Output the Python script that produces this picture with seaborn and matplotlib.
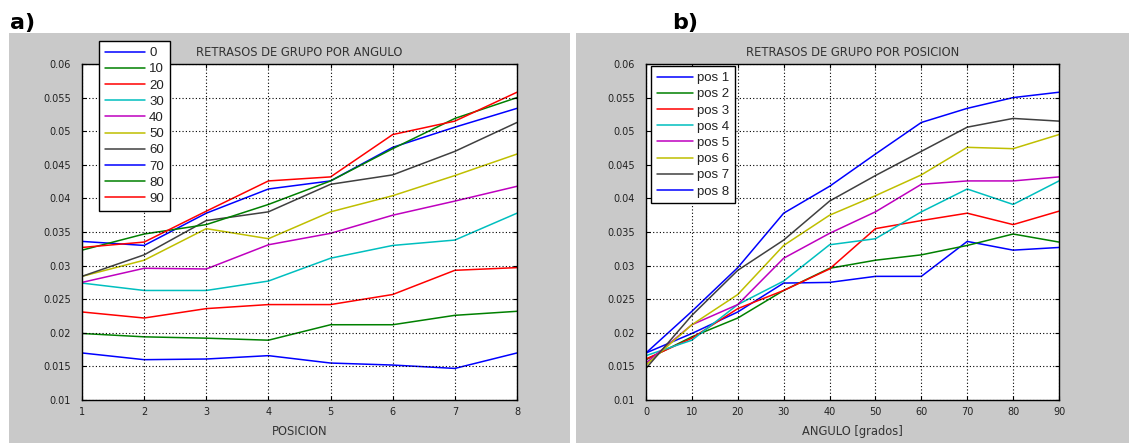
import numpy as np
import pandas as pd
import matplotlib
matplotlib.use("Agg")
import matplotlib.pyplot as plt
from matplotlib.lines import Line2D
from matplotlib.patches import Rectangle
import seaborn as sns

# ---- data: group delay for each angle (rows) at each position 1..8 ----
posiciones = [1, 2, 3, 4, 5, 6, 7, 8]
angulos = [0, 10, 20, 30, 40, 50, 60, 70, 80, 90]
ang0 = [0.0170, 0.0160, 0.0161, 0.0166, 0.0155, 0.0152, 0.0147, 0.0170]
ang10 = [0.0199, 0.0194, 0.0192, 0.0189, 0.0212, 0.0212, 0.0226, 0.0232]
ang20 = [0.0231, 0.0222, 0.0236, 0.0242, 0.0242, 0.0257, 0.0293, 0.0297]
ang30 = [0.0274, 0.0263, 0.0263, 0.0277, 0.0311, 0.0330, 0.0338, 0.0378]
ang40 = [0.0275, 0.0296, 0.0295, 0.0331, 0.0348, 0.0375, 0.0396, 0.0418]
ang50 = [0.0284, 0.0308, 0.0355, 0.0340, 0.0380, 0.0404, 0.0434, 0.0466]
ang60 = [0.0284, 0.0316, 0.0367, 0.0380, 0.0421, 0.0435, 0.0470, 0.0513]
ang70 = [0.0336, 0.0330, 0.0378, 0.0414, 0.0426, 0.0476, 0.0506, 0.0534]
ang80 = [0.0323, 0.0347, 0.0361, 0.0391, 0.0426, 0.0474, 0.0519, 0.0550]
ang90 = [0.0327, 0.0335, 0.0381, 0.0426, 0.0432, 0.0495, 0.0515, 0.0558]
series_ang = [ang0, ang10, ang20, ang30, ang40, ang50, ang60, ang70, ang80, ang90]

labels_ang = [str(a) for a in angulos]
labels_pos = ["pos %d" % p for p in posiciones]
title_a = "RETRASOS DE GRUPO POR ANGULO"
title_b = "RETRASOS DE GRUPO POR POSICION"
xlabel_a = "POSICION"
xlabel_b = "ANGULO [grados]"
yticks = [0.01, 0.015, 0.02, 0.025, 0.03, 0.035, 0.04, 0.045, 0.05, 0.055, 0.06]

# MATLAB classic colour order
mcolors = [(0, 0, 1), (0, 0.5, 0), (1, 0, 0), (0, 0.75, 0.75),
           (0.75, 0, 0.75), (0.75, 0.75, 0), (0.25, 0.25, 0.25)]

rows = []
for a, lab, vals in zip(angulos, labels_ang, series_ang):
    for p, v in zip(posiciones, vals):
        rows.append({"ang": a, "ang_lab": lab, "pos": p,
                     "pos_lab": "pos %d" % p, "val": v})
df = pd.DataFrame(rows)

pal_a = {lab: mcolors[i % 7] for i, lab in enumerate(labels_ang)}
pal_b = {lab: mcolors[i % 7] for i, lab in enumerate(labels_pos)}

sns.set_style("white")
plt.rcParams["font.family"] = ["DejaVu Sans"]

W, H = 1129, 443
fig = plt.figure(figsize=(W / 100, H / 100), dpi=100)
fig.patch.set_facecolor("white")

gray = "#c9c9c9"
bg = fig.add_axes([0, 0, 1, 1], zorder=-10)
bg.set_xlim(0, W)
bg.set_ylim(H, 0)
bg.axis("off")
bg.add_patch(Rectangle((9, 33), 561, 410, facecolor=gray, edgecolor="none"))
bg.add_patch(Rectangle((576, 33), W - 576, 410, facecolor=gray, edgecolor="none"))

ax1 = fig.add_axes([82 / W, (H - 400) / H, 435 / W, 336 / H])
ax2 = fig.add_axes([646 / W, (H - 400) / H, 413 / W, 336 / H])

sns.lineplot(data=df, x="pos", y="val", hue="ang_lab", hue_order=labels_ang,
             palette=pal_a, legend=False, ax=ax1, lw=1.1, estimator=None)
sns.lineplot(data=df, x="ang", y="val", hue="pos_lab", hue_order=labels_pos,
             palette=pal_b, legend=False, ax=ax2, lw=1.1, estimator=None)

def style(ax, xticks, title, xlabel):
    ax.set_facecolor("white")
    ax.set_xlim(xticks[0], xticks[-1])
    ax.set_ylim(0.01, 0.06)
    ax.set_xticks(xticks)
    ax.set_xticklabels([str(t) for t in xticks])
    ax.set_yticks(yticks)
    ax.set_yticklabels(["%g" % t for t in yticks])
    ax.tick_params(axis="both", direction="in", length=3, width=0.8, color="black",
                   labelsize=7, labelcolor="#222222", top=True, right=True,
                   bottom=True, left=True)
    ax.tick_params(axis="y", pad=8)
    ax.tick_params(axis="x", pad=5)
    ax.grid(True, color="black", linestyle=(0, (1, 2)), linewidth=0.8)
    ax.set_axisbelow(False)
    for s in ax.spines.values():
        s.set_visible(True)
        s.set_color("black")
        s.set_linewidth(1.0)
    ax.set_title(title, fontsize=8.3, color="#333333", pad=6)
    ax.set_xlabel(xlabel, fontsize=8.3, color="#333333", labelpad=6)
    ax.set_ylabel("")

style(ax1, posiciones, title_a, xlabel_a)
style(ax2, angulos, title_b, xlabel_b)

def make_legend(ax, labels, pal, x0, y0, hl):
    handles = [Line2D([0], [0], color=pal[l], lw=1.1) for l in labels]
    leg = ax.legend(handles, labels, loc="upper left",
                    bbox_to_anchor=(x0 / W, 1 - y0 / H), bbox_transform=fig.transFigure,
                    borderaxespad=0, frameon=True, fancybox=False, framealpha=1,
                    edgecolor="black", facecolor="white",
                    prop={"family": "Liberation Sans", "size": 9.5},
                    handlelength=hl, handletextpad=0.35, labelspacing=0.3,
                    borderpad=0.45)
    leg.get_frame().set_linewidth(1.0)
    for t in leg.get_texts():
        t.set_color("#222222")
    return leg

make_legend(ax1, labels_ang, pal_a, 99, 41, 3.0)
make_legend(ax2, labels_pos, pal_b, 651, 66, 2.7)

fig.text(10 / W, 1 - 28.5 / H, "a)", fontsize=16, fontweight="heavy",
         va="baseline", ha="left", color="black")
fig.text(672 / W, 1 - 28.5 / H, "b)", fontsize=16, fontweight="heavy",
         va="baseline", ha="left", color="black")

fig.savefig("out.png", dpi=100, facecolor=fig.get_facecolor())
